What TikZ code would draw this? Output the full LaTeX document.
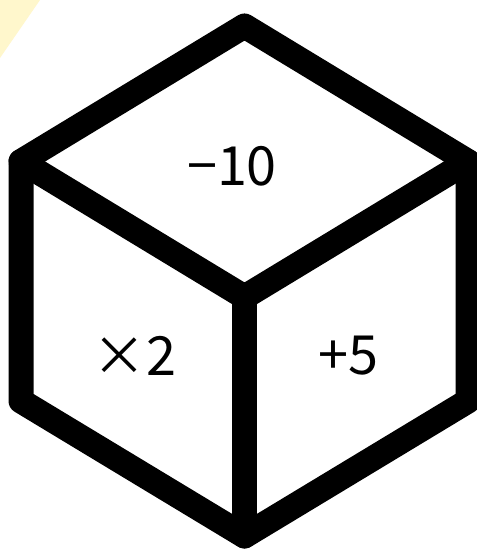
\documentclass[tikz,border=0pt]{standalone}
\usepackage{fontspec}
\usepackage{xcolor}
\usepackage{tikz}
\newfontfamily\jpfont{Noto Sans CJK JP}
\definecolor{cornyellow}{RGB}{255,247,204}

\begin{document}
\begin{tikzpicture}[x=1pt,y=1pt,
   edge/.style={line width=25pt,line join=round,line cap=round},
   lbl/.style={font=\jpfont\fontsize{54}{54}\selectfont,inner sep=0pt}]
  \clip (0,0) rectangle (477,550);
  \fill[white] (0,0) rectangle (477,550);
  \fill[cornyellow] (0,550) -- (40,550) -- (0,492) -- cycle;
  % cube corners
  \coordinate (top) at (244.5,524);
  \coordinate (ul)  at (21,388.5);
  \coordinate (ur)  at (468,388.5);
  \coordinate (mid) at (244.5,253);
  \coordinate (ll)  at (21,149);
  \coordinate (lr)  at (468,149);
  \coordinate (bot) at (244.5,14);
  \draw[edge] (top) -- (ur) -- (lr) -- (bot) -- (ll) -- (ul) -- cycle;
  \draw[edge] (ul) -- (mid) -- (ur);
  \draw[edge] (mid) -- (bot);
  % faces
  \node[lbl] (fa) at (232,384) {−10};
  \node[lbl] (fb) at (134,194) {×2};
  \node[lbl] (fc) at (348,194) {+5};
\end{tikzpicture}
\end{document}
